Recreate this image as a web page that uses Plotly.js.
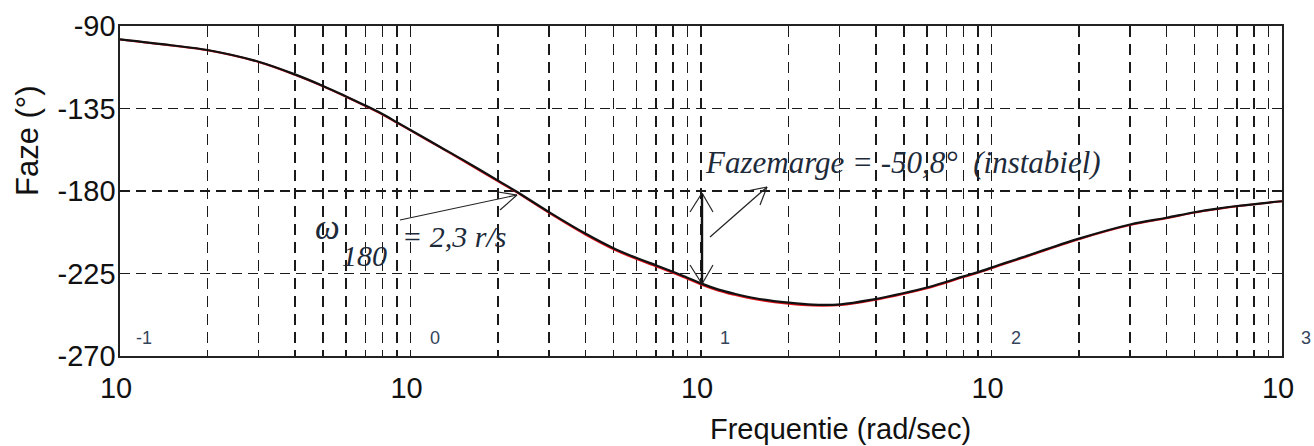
<!DOCTYPE html>
<html>
<head>
<meta charset="utf-8">
<script src="https://cdn.plot.ly/plotly-3.0.1.min.js"></script>
<style>
  html, body { margin: 0; padding: 0; background: #fff; }
  #chart { width: 1314px; height: 446px; }
</style>
</head>
<body>
<div id="chart"></div>
<script>
// ---- data ----
const freq = [0.1, 0.15, 0.2, 0.3, 0.4, 0.5, 0.6, 0.7, 0.8, 0.9, 1, 1.27, 1.5, 2.03, 2.3, 3, 4, 5, 6.1, 7, 8, 8.9, 10, 11.5, 13, 15.4, 20, 24.2, 30.3, 39.3, 49.6, 60.5, 70, 79.6, 91, 106, 126, 200, 300, 400, 500, 600, 700, 900, 1000];
const phaseBlack = [-97.3, -100.5, -103.1, -109.5, -116.4, -122.7, -128.4, -133.4, -138.0, -142.6, -146.7, -156.1, -162.6, -174.9, -180.0, -191.5, -203.2, -211.2, -217.0, -220.5, -224.0, -227.0, -230.4, -233.8, -236.0, -238.5, -240.9, -242.0, -241.8, -239.1, -235.8, -232.5, -229.5, -226.7, -224.0, -220.4, -216.5, -206.0, -198.3, -194.6, -191.6, -189.6, -188.2, -186.3, -185.6];
const phaseRed = [-97.3, -100.6, -103.2, -109.6, -116.6, -122.9, -128.6, -133.7, -138.3, -142.9, -147.0, -156.4, -163.0, -175.3, -180.4, -192.0, -203.8, -211.8, -217.6, -221.1, -224.6, -227.6, -231.0, -234.4, -236.6, -239.1, -241.5, -242.5, -242.2, -239.5, -236.2, -232.9, -229.9, -227.1, -224.4, -220.8, -216.9, -206.3, -198.6, -194.9, -191.8, -189.8, -188.3, -186.4, -185.6];

const yTickVals = [-270, -225, -180, -135, -90];
const yTickText = ['-270', '-225', '-180', '-135', '-90'];
const decades = [0.1, 1, 10, 100, 1000];
const decadeLabel = '10';
const exponents = ['-1', '0', '1', '2', '3'];
const xTitle = 'Frequentie (rad/sec)';
const yTitle = 'Faze (°)';
const marginText = 'Fazemarge = -50,8°&nbsp; (instabiel)';

// x grid at every 1..9 multiple of each decade
const xTickVals = [];
const xTickText = [];
decades.forEach((d, i) => {
  const mults = i < decades.length - 1 ? [1,2,3,4,5,6,7,8,9] : [1];
  mults.forEach(m => {
    xTickVals.push(+(d * m).toPrecision(3));
    xTickText.push(m === 1 ? decadeLabel : '');
  });
});

// ---- geometry helpers (pixel -> paper) ----
const W = 1314, H = 446;
const M = {l: 120, r: 32, t: 26, b: 90};
const PW = W - M.l - M.r, PH = H - M.t - M.b;
const px = x => (x - M.l) / PW;
const py = y => (H - M.b - y) / PH;

function seg(x0, y0, x1, y1, w, c) {
  return {type: 'line', xref: 'paper', yref: 'paper',
          x0: px(x0), y0: py(y0), x1: px(x1), y1: py(y1),
          line: {color: c || '#222', width: w || 1.2}};
}

const shapes = [
  // omega_180 arrow
  seg(400, 220, 517, 195), seg(517, 195, 498, 192), seg(517, 195, 500, 210),
  // phase margin double arrow
  seg(702, 194, 702, 283, 2.4, '#111'),
  seg(702, 193, 690, 212), seg(702, 193, 713, 212),
  seg(702, 284, 690, 265), seg(702, 284, 713, 265),
  // arrow to Fazemarge text
  seg(710, 237, 767, 187), seg(767, 187, 747, 191), seg(767, 187, 760, 205)
];

const serif = 'Liberation Serif, Times New Roman, serif';
const sans = 'Liberation Sans, Arial, sans-serif';
const txtCol = '#1d2a3a';

const annotations = [
  {text: xTitle, xref: 'paper', yref: 'paper', x: px(840), y: py(429), showarrow: false,
   xanchor: 'center', yanchor: 'middle', font: {family: sans, size: 29, color: '#111'}},
  {text: yTitle, xref: 'paper', yref: 'paper', x: px(27), y: py(141), showarrow: false, textangle: -90,
   xanchor: 'center', yanchor: 'middle', font: {family: sans, size: 31, color: '#111'}},
  {text: '<i>' + marginText + '</i>', xref: 'paper', yref: 'paper', x: px(903), y: py(162), showarrow: false,
   xanchor: 'center', yanchor: 'middle', font: {family: serif, size: 31, color: txtCol}},
  {text: '<i>ω</i>', xref: 'paper', yref: 'paper', x: px(327), y: py(228), showarrow: false,
   xanchor: 'center', yanchor: 'middle', font: {family: serif, size: 35, color: txtCol}},
  {text: '<i>180</i>', xref: 'paper', yref: 'paper', x: px(364), y: py(255), showarrow: false,
   xanchor: 'center', yanchor: 'middle', font: {family: serif, size: 30, color: txtCol}},
  {text: '<i>= 2,3 r/s</i>', xref: 'paper', yref: 'paper', x: px(454), y: py(236), showarrow: false,
   xanchor: 'center', yanchor: 'middle', font: {family: serif, size: 30, color: txtCol}}
];
decades.forEach((d, i) => {
  annotations.push({text: exponents[i], xref: 'paper', yref: 'paper',
    x: (Math.log10(d) + 1) / 4 + 24 / PW, y: py(338), showarrow: false,
    xanchor: 'center', yanchor: 'middle', font: {family: sans, size: 18, color: '#34445a'}});
});

const traces = [
  {x: freq, y: phaseRed, type: 'scatter', mode: 'lines', line: {color: '#e8141c', width: 2, shape: 'spline', smoothing: 1}, hoverinfo: 'skip'},
  {x: freq, y: phaseBlack, type: 'scatter', mode: 'lines', line: {color: '#111', width: 2.2, shape: 'spline', smoothing: 1}, hoverinfo: 'skip'}
];

const layout = {
  width: W, height: H,
  margin: M,
  paper_bgcolor: '#fff', plot_bgcolor: '#fff',
  showlegend: false,
  xaxis: {
    type: 'log', range: [-1, 3],
    tickmode: 'array', tickvals: xTickVals, ticktext: xTickText,
    ticks: 'outside', ticklen: 0, ticklabelstandoff: 6, ticklabelshift: -4,
    tickfont: {family: sans, size: 29, color: '#111'},
    showgrid: true, gridcolor: '#1a1a1a', gridwidth: 1.5, griddash: '11px,7px',
    showline: true, mirror: true, linecolor: '#222', linewidth: 1.6,
    zeroline: false, fixedrange: true
  },
  yaxis: {
    range: [-270, -90],
    tickmode: 'array', tickvals: yTickVals, ticktext: yTickText,
    ticks: 'outside', ticklen: 0, ticklabelstandoff: -3,
    tickfont: {family: sans, size: 29, color: '#111'},
    showgrid: true, gridcolor: '#1a1a1a', gridwidth: 1.5, griddash: '10px,6px',
    showline: true, mirror: true, linecolor: '#222', linewidth: 1.6,
    zeroline: false, fixedrange: true
  },
  shapes: shapes,
  annotations: annotations
};

Plotly.newPlot('chart', traces, layout, {staticPlot: true, displayModeBar: false});
</script>
</body>
</html>
